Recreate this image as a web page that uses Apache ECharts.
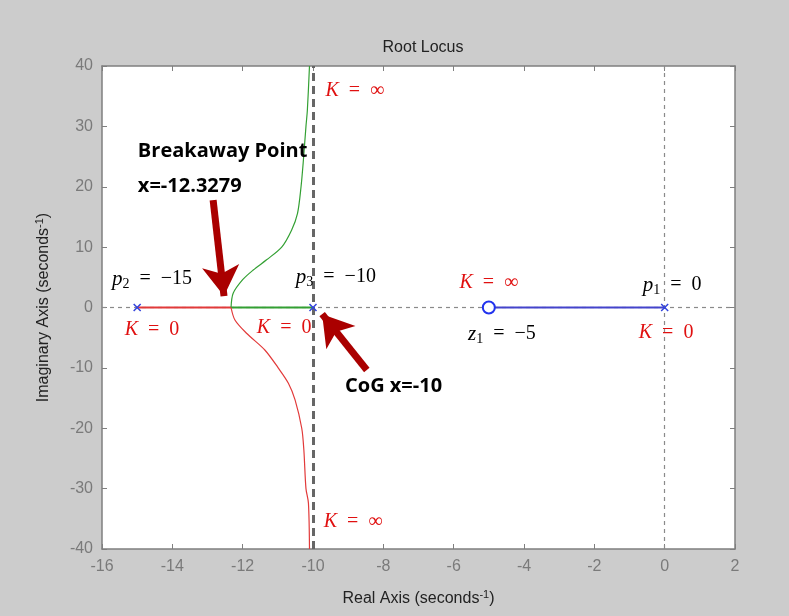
<!DOCTYPE html>
<html>
<head>
<meta charset="utf-8">
<script src="https://cdn.jsdelivr.net/npm/echarts@6/dist/echarts.min.js"></script>
<style>html,body{margin:0;padding:0;background:#cccccc;}#c{width:789px;height:616px;}</style>
</head>
<body>
<div id="c"></div>
<script>
// ---- data ----
var xTicks = [-16, -14, -12, -10, -8, -6, -4, -2, 0, 2];
var yTicks = [-40, -30, -20, -10, 0, 10, 20, 30, 40];
var poles = [[-15, 0], [-10, 0], [0, 0]];
var zeros = [[-5, 0]];
var breakaway = -12.3279;
var redRealSeg = [[-15, 0], [-12.33, 0]];
var greenRealSeg = [[-12.33, 0], [-10, 0]];
var blueRealSeg = [[-5, 0], [0, 0]];
var greenUpper = [[-12.33, 0], [-12.27, 2.35], [-12.0, 4.6], [-11.70, 6.2], [-11.32, 7.9], [-10.89, 10], [-10.61, 12.8], [-10.44, 15.6], [-10.34, 20], [-10.28, 23.9], [-10.20, 30], [-10.16, 32.7], [-10.10, 40]];
var redLower = [[-12.33, 0], [-12.22, -2.07], [-11.89, -4.27], [-11.37, -7.04], [-10.99, -10], [-10.70, -12.55], [-10.51, -15.3], [-10.32, -20], [-10.26, -23.6], [-10.20, -30], [-10.13, -32.4], [-10.10, -40]];
var asymptoteX = -10;

// annotations
var kLabels = [
  [-8.81, 35.9, 'inf'], [-5.0, 4.1, 'inf'], [-8.86, -35.5, 'inf'],
  [-14.58, -3.7, 'zero'], [-10.82, -3.4, 'zero'], [0.04, -4.2, 'zero']
];
var nameLabels = [
  [-14.58, 4.7, 'p', '2', '\u221215'],
  [-9.35, 5.05, 'p', '3', '\u221210'],
  [0.21, 3.7, 'p', '1', '0'],
  [-4.63, -4.4, 'z', '1', '\u22125']
];
var noteLabels = [
  [-14.98, 25.8, 'Breakaway Point'],
  [-14.98, 20.1, 'x=' + breakaway],
  [-9.09, -13.0, 'CoG x=-10']
];
var arrows = [
  [[-12.84, 17.8], [-12.53, 1.9]],
  [[-8.47, -10.35], [-9.74, -1.1]]
];

var chart = echarts.init(document.getElementById('c'));
var serif = '"Liberation Serif", "DejaVu Serif", serif';
var red = '#e01010';

var series = [
  {type: 'line', data: redRealSeg, showSymbol: false, lineStyle: {color: '#e23a3a', width: 2}, z: 3, silent: true,
   markLine: {silent: true, symbol: 'none', label: {show: false}, z: 1,
     data: [
       {yAxis: 0, lineStyle: {color: '#8a8a8a', width: 1.2, type: [4, 4]}},
       {xAxis: 0, lineStyle: {color: '#8a8a8a', width: 1.2, type: [4, 4]}},
       {xAxis: asymptoteX, lineStyle: {color: '#666666', width: 3, type: [8, 5]}}
     ]}},
  {type: 'line', data: greenRealSeg, showSymbol: false, lineStyle: {color: '#33a033', width: 2}, z: 3, silent: true},
  {type: 'line', data: blueRealSeg, showSymbol: false, lineStyle: {color: '#4444cc', width: 2}, z: 3, silent: true},
  {type: 'line', data: greenUpper, showSymbol: false, smooth: 0.3, lineStyle: {color: '#33a033', width: 1.2}, z: 3, silent: true},
  {type: 'line', data: redLower, showSymbol: false, smooth: 0.3, lineStyle: {color: '#e23a3a', width: 1.2}, z: 3, silent: true},
  {type: 'scatter', data: poles, symbol: 'path://M0,0L10,10M10,0L0,10', symbolSize: 7,
   itemStyle: {color: 'none', borderColor: '#3344dd', borderWidth: 1.5, opacity: 1}, z: 5, silent: true},
  {type: 'scatter', data: zeros, symbol: 'circle', symbolSize: 12,
   itemStyle: {color: '#ffffff', borderColor: '#2233ee', borderWidth: 2, opacity: 1}, z: 5, silent: true},
  // K labels
  {type: 'scatter', data: kLabels, symbolSize: 0, z: 6, silent: true, itemStyle: {opacity: 1},
   label: {show: true, position: 'inside', formatter: function (p) {
     return '{i|K}{n|  =  ' + (p.data[2] === 'inf' ? '\u221E' : '0') + '}';
   }, rich: {
     i: {fontFamily: serif, fontStyle: 'italic', fontSize: 20, color: red},
     n: {fontFamily: serif, fontSize: 20, color: red}
   }}},
  // p/z labels
  {type: 'scatter', data: nameLabels, symbolSize: 0, z: 6, silent: true, itemStyle: {opacity: 1},
   label: {show: true, position: 'inside', color: '#000', formatter: function (p) {
     return '{i|' + p.data[2] + '}{s|' + p.data[3] + '}{n|  =  ' + p.data[4] + '}';
   }, rich: {
     i: {fontFamily: serif, fontStyle: 'italic', fontSize: 21, color: '#000'},
     n: {fontFamily: serif, fontSize: 20, color: '#000'},
     s: {fontFamily: serif, fontSize: 14, color: '#000', padding: [10, 0, 0, 0]}
   }}},
  // bold notes
  {type: 'scatter', data: noteLabels, symbolSize: 0, z: 6, silent: true, itemStyle: {opacity: 1},
   label: {show: true, position: 'right', distance: 0, formatter: function (p) { return p.data[2]; },
     fontFamily: '"Open Sans", "Noto Sans", sans-serif', fontWeight: 'bold', fontSize: 20, color: '#000'}},
  // arrows
  {type: 'line', data: [], z: 7, silent: true,
   markLine: {silent: true, symbol: ['none', 'arrow'], symbolSize: [28, 30], label: {show: false},
     lineStyle: {color: '#aa0000', width: 7, type: 'solid', opacity: 1},
     data: arrows.map(function (a) { return [{coord: a[0]}, {coord: a[1]}]; })}}
];

var axisGray = '#7f7f7f';
var sans = '"Liberation Sans", Arial, sans-serif';
var nameRich = {
  a: {fontFamily: sans, fontSize: 16, color: '#222', lineHeight: 20},
  s: {fontFamily: sans, fontSize: 11, color: '#222', verticalAlign: 'top', lineHeight: 20, padding: [0, 0, 8, 0]}
};
var option = {
  backgroundColor: '#cccccc',
  animation: false,
  title: {text: 'Root Locus', left: 418, top: 35, textAlign: 'center',
    textStyle: {fontFamily: sans, fontSize: 16, fontWeight: 'normal', color: '#222'}},
  grid: [{left: 102, right: 54, top: 66, bottom: 67, show: true, backgroundColor: '#ffffff', borderWidth: 0}],
  xAxis: [
    {type: 'value', min: xTicks[0], max: xTicks[xTicks.length - 1], interval: 2, position: 'bottom',
     name: '{a|Real Axis (seconds}{s|-1}{a|)}', nameLocation: 'middle', nameGap: 40,
     nameTextStyle: {rich: nameRich},
     axisLine: {show: true, onZero: false, lineStyle: {color: axisGray, width: 1.5}},
     axisTick: {show: true, inside: true, length: 5, lineStyle: {color: axisGray}},
     axisLabel: {color: '#7a7a7a', fontFamily: sans, fontSize: 16, margin: 10},
     splitLine: {show: false}},
    {type: 'value', min: xTicks[0], max: xTicks[xTicks.length - 1], interval: 2, position: 'top',
     axisLine: {show: true, onZero: false, lineStyle: {color: axisGray, width: 1.5}},
     axisTick: {show: true, inside: true, length: 5, lineStyle: {color: axisGray}},
     axisLabel: {show: false}, splitLine: {show: false}}
  ],
  yAxis: [
    {type: 'value', min: yTicks[0], max: yTicks[yTicks.length - 1], interval: 10, position: 'left',
     name: '{a|Imaginary Axis (seconds}{s|-1}{a|)}', nameLocation: 'middle', nameGap: 48,
     nameTextStyle: {rich: nameRich},
     axisLine: {show: true, onZero: false, lineStyle: {color: axisGray, width: 1.5}},
     axisTick: {show: true, inside: true, length: 5, lineStyle: {color: axisGray}},
     axisLabel: {color: '#7a7a7a', fontFamily: sans, fontSize: 16, margin: 9},
     splitLine: {show: false}},
    {type: 'value', min: yTicks[0], max: yTicks[yTicks.length - 1], interval: 10, position: 'right',
     axisLine: {show: true, onZero: false, lineStyle: {color: axisGray, width: 1.5}},
     axisTick: {show: true, inside: true, length: 5, lineStyle: {color: axisGray}},
     axisLabel: {show: false}, splitLine: {show: false}}
  ],
  series: series
};
chart.setOption(option);
</script>
</body>
</html>
